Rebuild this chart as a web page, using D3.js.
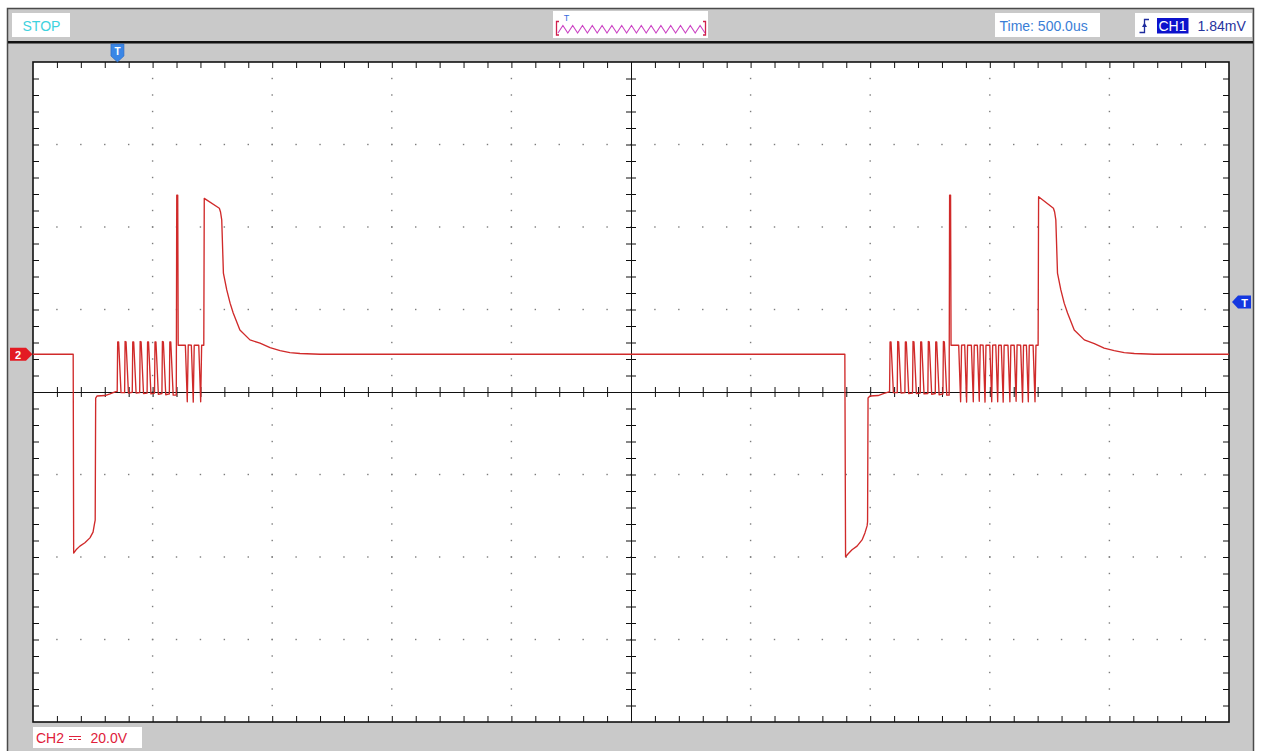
<!DOCTYPE html>
<html>
<head>
<meta charset="utf-8">
<script src="https://cdn.jsdelivr.net/npm/d3@7"></script>
<style>
  html, body { margin: 0; padding: 0; background: #fff; overflow: hidden; }
  svg { display: block; font-family: "Liberation Sans", Arial, sans-serif; }
</style>
</head>
<body>
<svg id="scope" width="1261" height="751"></svg>
<script>
// ---- Scope settings ----
const timePerDiv = 500;        // µs per horizontal division
const voltsPerDiv = 20;        // V per vertical division (CH2)
const divsX = 10;
const divsY = 8;
const ch2OffsetDiv = 0.457;    // CH2 ground marker, divisions above centre
const triggerTimeUs = 353;     // horizontal trigger position
const triggerLevelDiv = 1.09;  // CH1 trigger level marker, divisions above centre

// ---- Status bar texts ----
const runState = "STOP";
const timebaseLabel = "Time: 500.0us";
const triggerSource = "CH1";
const triggerLevelLabel = "1.84mV";
const ch2Name = "CH2";
const ch2ScaleLabel = "20.0V";

// ---- CH2 trace: [time µs from left edge, volts] ----
const ch2Trace = [
  [0, 0], [168, 0], [170, -48.2], [180, -47.4], [196, -46.5], [217, -45.7], [238, -44.5],
  [251, -43.1], [257, -41.1], [260, -40.2], [262, -10.6], [268, -10.1], [301, -10.0],
  [322, -9.6], [343, -9.1], [351, -9.0],
  // first burst
  [352, -9.0], [354, 3.0], [358, 3.0], [368, -9.3],
  [383, -9.3], [385, 3.1], [389, 3.0], [399, -9.4],
  [415, -9.2], [417, 3.0], [421, 3.0], [431, -9.4],
  [446, -9.3], [448, 3.1], [452, 3.0], [462, -9.5],
  [477, -9.4], [479, 3.0], [483, 3.0], [493, -9.6],
  [508, -9.4], [510, 3.0], [514, 3.0], [524, -9.7],
  [539, -9.5], [541, 3.1], [545, 3.0], [555, -9.8],
  [570, -9.6], [572, 3.0], [576, 3.0], [586, -9.9],
  [599, -9.9], [601, 38.6], [605, 38.6], [607, 2.2],
  [637, 2.2], [645, -11.5], [649, 2.3],
  [662, 2.2], [670, -11.6], [674, 2.2],
  [693, 2.2], [701, -11.5], [705, 2.2],
  [714, 2.2], [716, 37.8], [779, 35.4], [784, 34.5], [789, 32.6], [796, 19.7], [810, 15.6],
  [824, 12.4], [837, 10.0], [865, 5.9], [907, 3.5], [949, 2.7], [991, 1.6], [1033, 0.9],
  [1074, 0.4], [1116, 0.2], [1200, 0],
  // second event
  [3394, 0], [3397, -49.1], [3407, -48.4], [3424, -47.4], [3445, -46.5], [3466, -45.0],
  [3478, -43.3], [3487, -41.6], [3489, -40.6], [3491, -10.6], [3499, -10.1], [3533, -10.0],
  [3558, -9.5], [3579, -9.1],
  [3581, -9.1], [3583, 3.0], [3587, 3.0], [3597, -9.3],
  [3613, -9.3], [3615, 3.1], [3619, 3.0], [3629, -9.4],
  [3645, -9.3], [3647, 3.0], [3651, 3.0], [3661, -9.5],
  [3677, -9.4], [3679, 3.1], [3683, 3.0], [3693, -9.5],
  [3709, -9.4], [3711, 3.0], [3715, 3.0], [3725, -9.6],
  [3741, -9.5], [3743, 3.1], [3747, 3.0], [3757, -9.7],
  [3772, -9.5], [3774, 3.0], [3778, 3.0], [3788, -9.8],
  [3804, -9.6], [3806, 3.1], [3810, 3.0], [3820, -9.9],
  [3830, -9.9], [3832, 38.6], [3836, 38.6], [3838, 2.2],
  [3870, 2.2], [3878, -11.5], [3882, 2.2],
  [3895, 2.3], [3903, -11.6], [3907, 2.2],
  [3923, 2.2], [3931, -11.5], [3935, 2.2],
  [3948, 2.2], [3956, -11.4], [3960, 2.3],
  [3972, 2.2], [3980, -11.6], [3984, 2.2],
  [4000, 2.2], [4008, -11.5], [4012, 2.2],
  [4025, 2.3], [4033, -11.5], [4037, 2.2],
  [4048, 2.2], [4056, -11.6], [4060, 2.2],
  [4076, 2.2], [4084, -11.5], [4088, 2.2],
  [4102, 2.2], [4110, -11.4], [4114, 2.3],
  [4129, 2.2], [4137, -11.6], [4141, 2.2],
  [4153, 2.2], [4161, -11.5], [4165, 2.2],
  [4181, 2.2], [4189, -11.5], [4193, 2.2],
  [4202, 2.2], [4204, 38.2], [4266, 35.4], [4271, 34.5], [4276, 32.6], [4283, 19.7],
  [4297, 15.6], [4311, 12.4], [4325, 10.0], [4353, 5.9], [4395, 3.5], [4437, 2.6],
  [4478, 1.5], [4520, 0.9], [4562, 0.4], [4604, 0.2], [4687, 0], [5000, 0]
];

// ---- Layout ----
const frame = { left: 33, top: 62, right: 1229, bottom: 722 };
const svg = d3.select("#scope");

const x = d3.scaleLinear().domain([0, timePerDiv * divsX]).range([frame.left, frame.right]);
const yDiv = d3.scaleLinear().domain([-divsY / 2, divsY / 2]).range([frame.bottom, frame.top]);
const y = d3.scaleLinear()
  .domain([(-divsY / 2 - ch2OffsetDiv) * voltsPerDiv, (divsY / 2 - ch2OffsetDiv) * voltsPerDiv])
  .range([frame.bottom, frame.top]);

// window panel
svg.append("rect").attr("x", 7.5).attr("y", 8.5).attr("width", 1246).attr("height", 760)
  .attr("fill", "#c9c9c9").attr("stroke", "#4a4a4a").attr("stroke-width", 1.5);
svg.append("rect").attr("x", 8).attr("y", 41).attr("width", 1245).attr("height", 2.5).attr("fill", "#111");

// ---- Status bar ----
const bar = svg.append("g");
bar.append("rect").attr("x", 12).attr("y", 13).attr("width", 58).attr("height", 24).attr("fill", "#fff");
bar.append("text").attr("x", 22.5).attr("y", 30.5).attr("font-size", 14).attr("fill", "#3ed2de").text(runState);

// memory overview strip
bar.append("rect").attr("x", 553).attr("y", 11).attr("width", 155).attr("height", 27).attr("fill", "#fff");
const zig = d3.range(0, 31).map(i => [558 + i * 4.9, i % 2 === 0 ? 33 : 25.5]);
bar.append("path").attr("d", d3.line()(zig)).attr("fill", "none").attr("stroke", "#cc44c4").attr("stroke-width", 1.1);
bar.append("path").attr("d", "M559,21.5H556.5V35H559 M703,21.5H705.5V35H703")
  .attr("fill", "none").attr("stroke", "#d0204c").attr("stroke-width", 1.3);
bar.append("text").attr("x", 566.5).attr("y", 21).attr("font-size", 9).attr("text-anchor", "middle")
  .attr("fill", "#3a6ee0").text("T");

// timebase
bar.append("rect").attr("x", 995).attr("y", 13).attr("width", 105).attr("height", 24).attr("fill", "#fff");
bar.append("text").attr("x", 999.5).attr("y", 30.5).attr("font-size", 14).attr("fill", "#3a7ed6").text(timebaseLabel);

// trigger info
bar.append("rect").attr("x", 1135).attr("y", 13).attr("width", 117).attr("height", 24).attr("fill", "#fff");
bar.append("path").attr("d", "M1139.5,32.5H1144.5V19.5H1149")
  .attr("fill", "none").attr("stroke", "#1e2c9e").attr("stroke-width", 1.3);
bar.append("path").attr("d", "M1142,27L1144.5,22.5L1147,27Z").attr("fill", "#1e2c9e");
bar.append("rect").attr("x", 1157).attr("y", 18).attr("width", 31.5).attr("height", 15.5).attr("fill", "#0c12cc");
bar.append("text").attr("x", 1158.5).attr("y", 31).attr("font-size", 14).attr("fill", "#fff").text(triggerSource);
bar.append("text").attr("x", 1197.5).attr("y", 31).attr("font-size", 14).attr("fill", "#26349e").text(triggerLevelLabel);

// ---- Plot area ----
svg.append("rect").attr("x", frame.left).attr("y", frame.top)
  .attr("width", frame.right - frame.left).attr("height", frame.bottom - frame.top)
  .attr("fill", "#fff");

const minorTimes = d3.range(0, divsX * 5 + 1).map(i => i * timePerDiv / 5);
const minorDivs = d3.range(0, divsY * 5 + 1).map(i => -divsY / 2 + i / 5);
const majorTimes = d3.range(1, divsX).filter(i => i !== divsX / 2).map(i => i * timePerDiv);
const majorDivs = d3.range(1, divsY).map(i => -divsY / 2 + i).filter(d => d !== 0);

// dotted graticule
const dots = svg.append("g").attr("fill", "#7c7c7c");
majorTimes.forEach(t => {
  minorDivs.slice(1, -1).forEach(d => {
    dots.append("rect").attr("x", x(t) - 0.7).attr("y", yDiv(d) - 0.7).attr("width", 1.4).attr("height", 1.4);
  });
});
majorDivs.forEach(d => {
  minorTimes.slice(1, -1).forEach(t => {
    dots.append("rect").attr("x", x(t) - 0.7).attr("y", yDiv(d) - 0.7).attr("width", 1.4).attr("height", 1.4);
  });
});

// edge ticks
function styleAxis(g, keepDomain) {
  if (!keepDomain) g.select(".domain").remove();
  else g.select(".domain").attr("stroke", "#111");
  g.selectAll(".tick line").attr("stroke", "#111");
  g.selectAll(".tick text").remove();
}
const innerTimes = minorTimes.slice(1, -1);
const innerDivs = minorDivs.slice(1, -1);
svg.append("g").attr("transform", `translate(0,${frame.top})`)
  .call(d3.axisBottom(x).tickValues(innerTimes).tickSize(6).tickFormat("")).call(g => styleAxis(g, false));
svg.append("g").attr("transform", `translate(0,${frame.bottom})`)
  .call(d3.axisTop(x).tickValues(innerTimes).tickSize(6).tickFormat("")).call(g => styleAxis(g, false));
svg.append("g").attr("transform", `translate(${frame.left},0)`)
  .call(d3.axisRight(yDiv).tickValues(innerDivs).tickSize(6).tickFormat("")).call(g => styleAxis(g, false));
svg.append("g").attr("transform", `translate(${frame.right},0)`)
  .call(d3.axisLeft(yDiv).tickValues(innerDivs).tickSize(6).tickFormat("")).call(g => styleAxis(g, false));

// centre cross-hair with ticks on both sides
const cy = yDiv(0), cx = x(timePerDiv * divsX / 2);
[d3.axisTop, d3.axisBottom].forEach(ax => {
  svg.append("g").attr("transform", `translate(0,${cy})`)
    .call(ax(x).tickValues(innerTimes).tickSize(5).tickSizeOuter(0).tickFormat(""))
    .call(g => styleAxis(g, true));
});
[d3.axisLeft, d3.axisRight].forEach(ax => {
  svg.append("g").attr("transform", `translate(${cx},0)`)
    .call(ax(yDiv).tickValues(innerDivs).tickSize(5).tickSizeOuter(0).tickFormat(""))
    .call(g => styleAxis(g, true));
});

// frame border
svg.append("rect").attr("x", frame.left).attr("y", frame.top)
  .attr("width", frame.right - frame.left).attr("height", frame.bottom - frame.top)
  .attr("fill", "none").attr("stroke", "#111").attr("stroke-width", 1.6);

// ---- CH2 trace ----
svg.append("clipPath").attr("id", "plotClip").append("rect")
  .attr("x", frame.left).attr("y", frame.top)
  .attr("width", frame.right - frame.left).attr("height", frame.bottom - frame.top);
svg.append("path")
  .datum(ch2Trace)
  .attr("clip-path", "url(#plotClip)")
  .attr("d", d3.line().x(d => x(d[0])).y(d => y(d[1])))
  .attr("fill", "none")
  .attr("stroke", "#d02a2a")
  .attr("stroke-width", 1.35)
  .attr("stroke-linejoin", "round");

// ---- Markers ----
// horizontal trigger position
const tx = x(triggerTimeUs);
svg.append("path")
  .attr("d", `M${tx - 6.5},44H${tx + 6.5}V56L${tx},62L${tx - 6.5},56Z`)
  .attr("fill", "#3a86e6").attr("stroke", "#2a66c0").attr("stroke-width", 0.6);
svg.append("text").attr("x", tx).attr("y", 54.5).attr("font-size", 10).attr("font-weight", "bold")
  .attr("text-anchor", "middle").attr("fill", "#fff").text("T");

// trigger level (right edge)
const ty = yDiv(triggerLevelDiv);
svg.append("path")
  .attr("d", `M1232,${ty}L1238,${ty - 6.5}H1251V${ty + 6.5}H1238Z`)
  .attr("fill", "#1438e0");
svg.append("text").attr("x", 1244.5).attr("y", ty + 4.5).attr("font-size", 11).attr("font-weight", "bold")
  .attr("text-anchor", "middle").attr("fill", "#fff").text("T");

// CH2 ground reference (left edge)
const gy = y(0);
svg.append("path")
  .attr("d", `M10,${gy - 6.5}H26L32.5,${gy}L26,${gy + 6.5}H10Z`)
  .attr("fill", "#e31b23");
svg.append("text").attr("x", 18).attr("y", gy + 4.5).attr("font-size", 11).attr("font-weight", "bold")
  .attr("text-anchor", "middle").attr("fill", "#fff").text("2");

// ---- CH2 scale box ----
svg.append("rect").attr("x", 33).attr("y", 727).attr("width", 109).attr("height", 21).attr("fill", "#fff");
svg.append("text").attr("x", 36).attr("y", 743).attr("font-size", 14).attr("fill", "#e0203a").text(ch2Name);
svg.append("path").attr("d", "M69,736.5H81 M69,739.5H72 M73.5,739.5H76.5 M78,739.5H81")
  .attr("stroke", "#e0203a").attr("stroke-width", 1).attr("fill", "none");
svg.append("text").attr("x", 90.5).attr("y", 743).attr("font-size", 14).attr("fill", "#e0203a").text(ch2ScaleLabel);
</script>
</body>
</html>
